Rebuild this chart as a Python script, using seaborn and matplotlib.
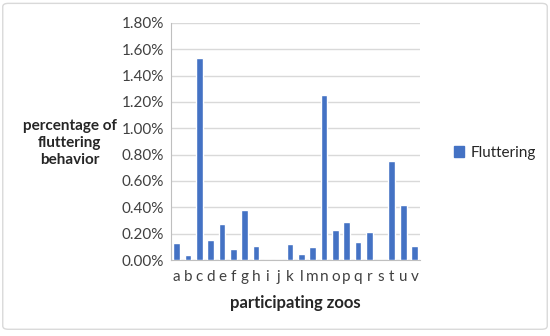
import numpy as np
import pandas as pd
import matplotlib
matplotlib.use("Agg")
import matplotlib.pyplot as plt
from matplotlib.patches import FancyBboxPatch, Patch
from matplotlib.ticker import FuncFormatter, MultipleLocator, FixedLocator
import seaborn as sns

zoos = list("abcdefghijklmnopqrstuv")
fluttering = [0.13, 0.04, 1.53, 0.155, 0.27, 0.085, 0.38, 0.105, 0.0, 0.0, 0.125,
              0.045, 0.10, 1.25, 0.23, 0.29, 0.14, 0.21, 0.0, 0.75, 0.415, 0.11]

df = pd.DataFrame({"zoo": zoos, "pct": fluttering})

sns.set_style("white")
plt.rcParams["font.family"] = ["Lato", "DejaVu Sans"]

fig = plt.figure(figsize=(5.5, 3.36), dpi=100)
ax = fig.add_axes([0.311, 0.226, 0.453, 0.706])

bar_color = "#4472C4"
sns.barplot(data=df, x="zoo", y="pct", color=bar_color, width=0.6,
            saturation=1, ax=ax, zorder=3)

ax.set_ylim(0, 1.8)
ax.set_xlim(-0.5, len(zoos) - 0.5)
ax.yaxis.set_major_locator(MultipleLocator(0.2))
ax.yaxis.set_major_formatter(FuncFormatter(lambda v, p: f"{v:.2f}%"))
ax.grid(axis="y", color="#D9D9D9", linewidth=1, zorder=0)

# tick marks between categories like Excel
ax.xaxis.set_minor_locator(FixedLocator(np.arange(-0.5, len(zoos), 1)))
ax.tick_params(axis="x", which="major", length=0, pad=7, labelsize=11, colors="#404040")
ax.tick_params(axis="x", which="minor", length=4, color="#BFBFBF", direction="out")
ax.tick_params(axis="y", length=0, labelsize=11, colors="#404040", pad=5)

for side in ["top", "right"]:
    ax.spines[side].set_visible(False)
ax.spines["left"].set_color("#BFBFBF")
ax.spines["bottom"].set_color("#BFBFBF")

ax.set_xlabel("participating zoos", fontsize=12, fontweight="bold", labelpad=8)
ax.set_ylabel("")
fig.text(0.127, 0.574, "percentage of\nfluttering\nbehavior", ha="center", va="center",
         fontsize=11, fontweight="bold", linespacing=1.25)

fig.legend(handles=[Patch(color=bar_color, label="Fluttering")],
           loc="center left", bbox_to_anchor=(0.8, 0.545), frameon=False,
           fontsize=11, handlelength=0.7, handleheight=0.7, handletextpad=0.4)

# chart area border
border = FancyBboxPatch((0.005, 0.02), 0.99, 0.97, boxstyle="round,pad=0,rounding_size=0.01",
                        transform=fig.transFigure, fill=False, edgecolor="#D9D9D9", linewidth=1)
fig.patches.append(border)

fig.savefig("out.png", dpi=100)
